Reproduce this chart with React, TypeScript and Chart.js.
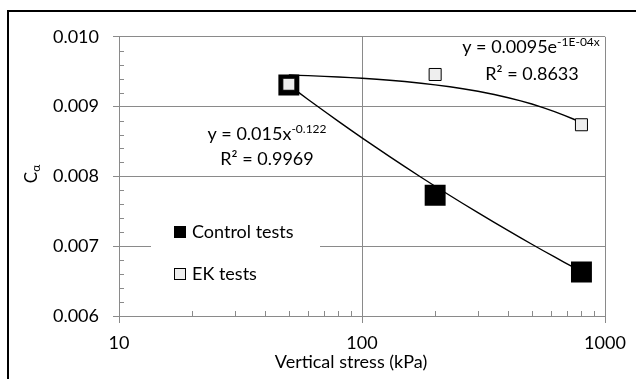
import React, { useEffect, useRef } from 'react';
import { Chart, registerables } from 'chart.js';

Chart.register(...registerables);

// ---- data ----
const stress = [50, 200, 800]; // kPa
const controlCa = [0.00931, 0.00773, 0.00663];
const ekCa = [0.00932, 0.00946, 0.00874];

const xTickValues = [10, 20, 30, 40, 50, 60, 70, 80, 90, 100, 200, 300, 400, 500, 600, 700, 800, 900, 1000];
const xTickLabels = ['10', '100', '1000'];
const yTickValues = [
  0.006, 0.0062, 0.0064, 0.0066, 0.0068,
  0.007, 0.0072, 0.0074, 0.0076, 0.0078,
  0.008, 0.0082, 0.0084, 0.0086, 0.0088,
  0.009, 0.0092, 0.0094, 0.0096, 0.0098,
  0.01,
];
const yTickLabels = ['0.006', '0.007', '0.008', '0.009', '0.010'];

// trendline equations as displayed on the chart
const powerCoef = 0.015;
const powerExp = -0.122;
const expCoef = 0.0095;
const expRate = -1e-4;
const trendX = [50, 55, 60, 70, 80, 90, 100, 115, 130, 150, 175, 200, 230, 260, 300, 350, 400, 450, 500, 560, 620, 680, 740, 800];

const FONT = 'Lato';
const GRAY = '#8a8a8a';

const isXMajor = (v: number) => xTickLabels.includes(String(Math.round(v)));
const yLabelFor = (v: number) => {
  const s = v.toFixed(3);
  return Math.abs(v * 1000 - Math.round(v * 1000)) < 1e-6 && yTickLabels.includes(s) ? s : '';
};

type Part = { t: string; sup?: boolean };

function drawRich(ctx: CanvasRenderingContext2D, parts: Part[], cx: number, baseline: number) {
  const big = `18px ${FONT}`;
  const small = `12px ${FONT}`;
  let total = 0;
  for (const p of parts) {
    ctx.font = p.sup ? small : big;
    total += ctx.measureText(p.t).width;
  }
  let xx = cx - total / 2;
  ctx.textAlign = 'left';
  ctx.textBaseline = 'alphabetic';
  for (const p of parts) {
    ctx.font = p.sup ? small : big;
    ctx.fillText(p.t, xx, p.sup ? baseline - 7 : baseline);
    xx += ctx.measureText(p.t).width;
  }
}

const decor = {
  id: 'decor',
  beforeDatasetsDraw(chart: any) {
    const { ctx, chartArea, scales } = chart;
    const x = scales.x;
    const y = scales.y;
    ctx.save();
    // inward minor ticks
    ctx.strokeStyle = GRAY;
    ctx.lineWidth = 1;
    ctx.beginPath();
    for (const v of xTickValues) {
      if (isXMajor(v)) continue;
      const px = Math.round(x.getPixelForValue(v)) + 0.5;
      ctx.moveTo(px, chartArea.bottom);
      ctx.lineTo(px, chartArea.bottom - 5);
    }
    for (const v of yTickValues) {
      if (yLabelFor(v)) continue;
      const py = Math.round(y.getPixelForValue(v)) + 0.5;
      ctx.moveTo(chartArea.left, py);
      ctx.lineTo(chartArea.left + 5, py);
    }
    ctx.stroke();

    // legend box
    ctx.fillStyle = '#ffffff';
    ctx.fillRect(142, 200, 169, 83);
    ctx.fillStyle = '#000000';
    ctx.fillRect(165, 214, 12, 12);
    ctx.fillStyle = '#eeeeee';
    ctx.fillRect(165.5, 256.5, 11, 11);
    ctx.strokeStyle = '#000000';
    ctx.strokeRect(165.5, 256.5, 11, 11);
    ctx.fillStyle = '#000000';
    ctx.font = `18px ${FONT}`;
    ctx.textAlign = 'left';
    ctx.textBaseline = 'middle';
    ctx.fillText('Control tests', 183, 220);
    ctx.fillText('EK tests', 183, 262);
    ctx.restore();
  },
  afterDraw(chart: any) {
    const { ctx } = chart;
    ctx.save();
    ctx.fillStyle = '#000000';
    // trendline equations
    drawRich(ctx, [{ t: 'y = 0.015x' }, { t: '-0.122', sup: true }], 258, 128);
    drawRich(ctx, [{ t: 'R² = 0.9969' }], 258, 153);
    drawRich(ctx, [{ t: 'y = 0.0095e' }, { t: '-1E-04x', sup: true }], 522, 41);
    drawRich(ctx, [{ t: 'R² = 0.8633' }], 523, 68);

    // x axis title
    ctx.font = `18px ${FONT}`;
    ctx.textAlign = 'center';
    ctx.textBaseline = 'alphabetic';
    ctx.fillText('Vertical stress (kPa)', 342, 356);

    // y axis title C_alpha
    ctx.translate(28, 162);
    ctx.rotate(-Math.PI / 2);
    ctx.font = `17px ${FONT}`;
    const wC = ctx.measureText('C').width;
    ctx.font = `12px ${FONT}`;
    const wA = ctx.measureText('α').width;
    const start = -(wC + wA) / 2;
    ctx.textAlign = 'left';
    ctx.font = `17px ${FONT}`;
    ctx.fillText('C', start, 0);
    ctx.font = `12px ${FONT}`;
    ctx.fillText('α', start + wC, 3);
    ctx.restore();
  },
};

export default function App() {
  const ref = useRef<HTMLCanvasElement | null>(null);

  useEffect(() => {
    if (!ref.current) return;
    const chart = new Chart(ref.current, {
      type: 'scatter',
      data: {
        datasets: [
          {
            label: 'EK tests',
            data: stress.map((s, i) => ({ x: s, y: ekCa[i] })),
            pointStyle: 'rect',
            pointRadius: 8.5,
            backgroundColor: '#eeeeee',
            borderColor: '#000000',
            borderWidth: 1,
            order: 0,
          },
          {
            label: 'Control tests',
            data: stress.map((s, i) => ({ x: s, y: controlCa[i] })),
            pointStyle: 'rect',
            pointRadius: 14.8,
            backgroundColor: '#000000',
            borderColor: '#000000',
            borderWidth: 0,
            order: 1,
          },
          {
            label: 'Power trend',
            data: trendX.map((v) => ({ x: v, y: powerCoef * Math.pow(v, powerExp) })),
            showLine: true,
            pointRadius: 0,
            borderColor: '#000000',
            borderWidth: 1.4,
            order: 2,
          },
          {
            label: 'Exponential trend',
            data: trendX.map((v) => ({ x: v, y: expCoef * Math.exp(expRate * v) })),
            showLine: true,
            pointRadius: 0,
            borderColor: '#000000',
            borderWidth: 1.4,
            order: 3,
          },
        ],
      },
      options: {
        animation: false,
        responsive: false,
        devicePixelRatio: 1,
        events: [],
        layout: { padding: { top: 20, right: 44, left: 0, bottom: 0 } },
        plugins: {
          legend: { display: false },
          tooltip: { enabled: false },
        },
        scales: {
          x: {
            type: 'logarithmic',
            min: 10,
            max: 1000,
            afterBuildTicks: (s: any) => {
              s.ticks = xTickValues.map((v) => ({ value: v }));
            },
            afterFit: (s: any) => {
              s.height = 76;
            },
            ticks: {
              autoSkip: false,
              maxRotation: 0,
              minRotation: 0,
              padding: 9,
              color: '#000000',
              font: { family: FONT, size: 18 },
              callback: (v: any) => (isXMajor(Number(v)) ? String(Math.round(Number(v))) : ''),
            },
            grid: {
              color: (c: any) => (c.tick && isXMajor(c.tick.value) ? GRAY : 'rgba(0,0,0,0)'),
              tickColor: (c: any) => (c.tick && isXMajor(c.tick.value) ? GRAY : 'rgba(0,0,0,0)'),
              tickLength: 7,
              lineWidth: 1,
            },
            border: { color: GRAY, width: 1 },
          },
          y: {
            type: 'linear',
            min: 0.006,
            max: 0.01,
            afterBuildTicks: (s: any) => {
              s.ticks = yTickValues.map((v) => ({ value: v }));
            },
            afterFit: (s: any) => {
              s.width = 110;
            },
            ticks: {
              autoSkip: false,
              padding: 14,
              color: '#000000',
              font: { family: FONT, size: 18 },
              callback: (v: any) => yLabelFor(Number(v)),
            },
            grid: {
              color: (c: any) => (c.tick && yLabelFor(c.tick.value) ? GRAY : 'rgba(0,0,0,0)'),
              tickColor: (c: any) => (c.tick && yLabelFor(c.tick.value) ? GRAY : 'rgba(0,0,0,0)'),
              tickLength: 6,
              lineWidth: 1,
            },
            border: { color: GRAY, width: 1 },
          },
        },
      },
      plugins: [decor],
    } as any);
    return () => chart.destroy();
  }, []);

  return (
    <div
      style={{
        position: 'fixed',
        left: 7,
        top: 10,
        width: 640,
        height: 380,
        border: '2px solid #000',
        background: '#fff',
      }}
    >
      <canvas ref={ref} width={640} height={380} style={{ display: 'block' }} />
    </div>
  );
}
